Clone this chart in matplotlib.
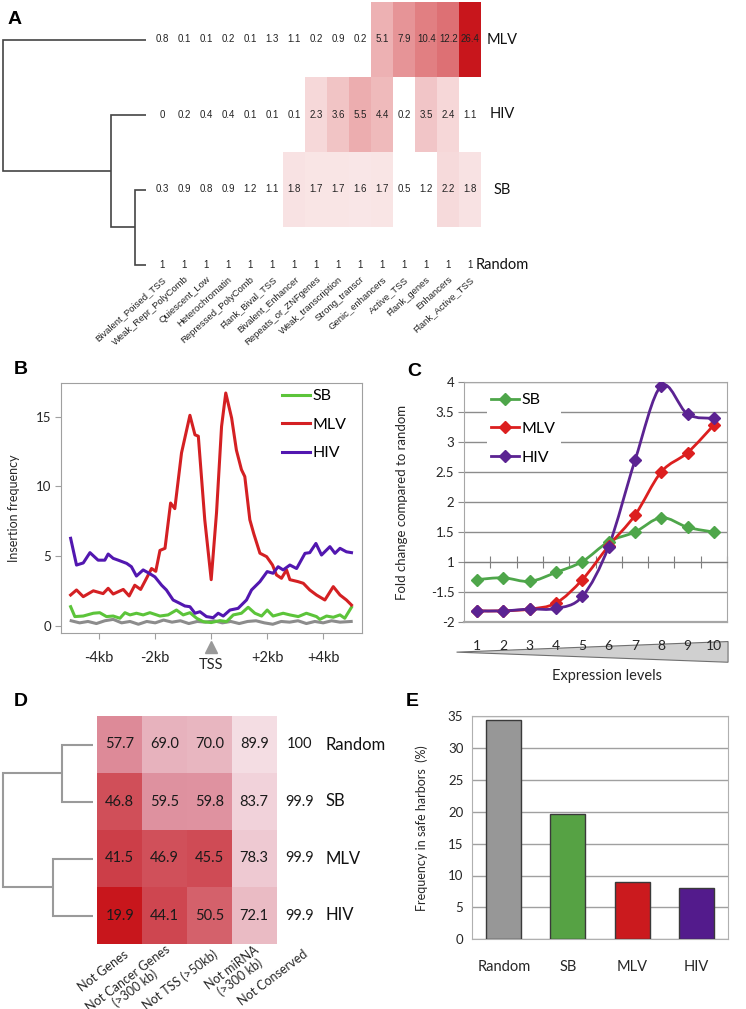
import numpy as np
import matplotlib
matplotlib.use('Agg')
import matplotlib.pyplot as plt
from matplotlib.colors import LinearSegmentedColormap, PowerNorm, Normalize
from matplotlib.lines import Line2D
from matplotlib.path import Path
from matplotlib.patches import PathPatch, Polygon

# ---------------- data ----------------
# Panel A: chromatin state enrichment (fold over random)
a_states = ['Bivalent_Poised_TSS', 'Weak_Repr_PolyComb', 'Quiescent_Low', 'Heterochromatin',
            'Repressed_PolyComb', 'Flank_Bival_TSS', 'Bivalent_Enhancer', 'Repeats_or_ZNFgenes',
            'Weak_transcription', 'Strong_transcr', 'Genic_enhancers', 'Active_TSS',
            'Flank_genes', 'Enhancers', 'Flank_Active_TSS']
a_rows = ['MLV', 'HIV', 'SB', 'Random']
a_mlv = [0.8, 0.1, 0.1, 0.2, 0.1, 1.3, 1.1, 0.2, 0.9, 0.2, 5.1, 7.9, 10.4, 12.2, 26.4]
a_hiv = [0, 0.2, 0.4, 0.4, 0.1, 0.1, 0.1, 2.3, 3.6, 5.5, 4.4, 0.2, 3.5, 2.4, 1.1]
a_sb = [0.3, 0.9, 0.8, 0.9, 1.2, 1.1, 1.8, 1.7, 1.7, 1.6, 1.7, 0.5, 1.2, 2.2, 1.8]
a_random = [1, 1, 1, 1, 1, 1, 1, 1, 1, 1, 1, 1, 1, 1, 1]
# dendrogram merges (child, child, height); leaves in row order
a_links = [(2, 3, 0.077), (1, 4, 0.245), (0, 5, 1.0)]

# Panel B: insertion frequency around TSS
b_mlv_kb = [-5.02, -4.81, -4.57, -4.21, -3.86, -3.68, -3.5, -3.14, -2.93, -2.73, -2.52, -2.31,
            -2.13, -1.98, -1.83, -1.65, -1.45, -1.3, -1.06, -0.76, -0.58, -0.46, -0.23, 0,
            0.19, 0.37, 0.52, 0.73, 0.9, 1.08, 1.2, 1.38, 1.52, 1.74, 1.98, 2.19, 2.33, 2.51,
            2.69, 2.81, 3.1, 3.29, 3.52, 3.76, 4.06, 4.36, 4.6, 4.83, 5.01]
b_mlv = [2.2, 2.56, 2.08, 2.5, 2.3, 2.68, 2.27, 2.6, 2.13, 2.9, 2.6, 3.4, 4.1, 3.9, 5.4, 5.55,
         8.8, 8.4, 12.4, 15.1, 13.7, 13.6, 7.6, 3.3, 8.1, 14.3, 16.7, 14.9, 12.6, 11.2, 10.7,
         7.6, 6.6, 5.2, 4.95, 4.35, 3.64, 3.4, 4.0, 3.3, 3.16, 3.04, 2.56, 2.2, 1.84, 2.8, 2.2,
         1.84, 1.48]
b_hiv_kb = [-5.02, -4.81, -4.57, -4.33, -4.04, -3.8, -3.68, -3.5, -3.32, -3.02, -2.85, -2.67,
            -2.43, -2.21, -2.01, -1.77, -1.6, -1.36, -1.12, -0.94, -0.76, -0.58, -0.4, -0.17,
            0.07, 0.25, 0.43, 0.67, 0.96, 1.26, 1.44, 1.74, 2.0, 2.21, 2.39, 2.57, 2.81, 3.05,
            3.35, 3.52, 3.74, 3.94, 4.24, 4.42, 4.6, 4.83, 5.01]
b_hiv = [6.27, 4.35, 4.5, 5.24, 4.7, 4.7, 5.14, 4.83, 4.7, 4.47, 4.23, 3.56, 4.0, 3.75, 3.5,
         2.9, 2.56, 1.84, 1.6, 1.41, 1.36, 0.89, 1.0, 0.65, 0.57, 0.89, 0.69, 1.12, 1.24, 1.84,
         2.56, 3.16, 3.88, 3.76, 4.23, 4.0, 4.35, 4.1, 5.19, 5.24, 5.9, 5.07, 5.67, 5.19, 5.55,
         5.3, 5.24]
b_sb_kb = [-5.02, -4.87, -4.57, -4.21, -3.98, -3.74, -3.5, -3.26, -3.08, -2.9, -2.67, -2.43,
           -2.19, -1.83, -1.54, -1.24, -1.0, -0.76, -0.52, -0.29, 0, 0.31, 0.55, 0.79, 1.08,
           1.32, 1.56, 1.8, 2.0, 2.21, 2.57, 2.81, 3.11, 3.4, 3.76, 3.88, 4.12, 4.36, 4.6, 4.77,
           5.01]
b_sb = [1.36, 0.65, 0.69, 0.89, 0.93, 0.65, 0.69, 0.53, 0.93, 0.77, 0.89, 0.77, 0.93, 0.69,
        0.77, 1.12, 0.77, 0.93, 0.53, 0.29, 0.22, 0.36, 0.29, 0.77, 0.89, 1.32, 0.89, 0.69,
        1.12, 0.69, 0.89, 0.77, 0.65, 0.89, 0.65, 0.45, 0.69, 0.6, 0.77, 0.53, 1.32]
b_rand_kb = [-5.0, -4.7, -4.4, -4.1, -3.8, -3.5, -3.2, -2.9, -2.6, -2.3, -2.0, -1.7, -1.4, -1.1,
             -0.8, -0.5, -0.2, 0.1, 0.4, 0.7, 1.0, 1.3, 1.6, 1.9, 2.2, 2.5, 2.8, 3.1, 3.4, 3.7,
             4.0, 4.3, 4.6, 5.0]
b_rand = [0.35, 0.2, 0.3, 0.15, 0.35, 0.45, 0.2, 0.3, 0.1, 0.3, 0.2, 0.4, 0.25, 0.35, 0.15,
          0.3, 0.25, 0.35, 0.2, 0.3, 0.15, 0.3, 0.35, 0.2, 0.1, 0.3, 0.25, 0.35, 0.15, 0.3, 0.2,
          0.35, 0.25, 0.3]
b_ticks = [-4, -2, 0, 2, 4]
b_tick_labels = ['-4kb', '-2kb', '', '+2kb', '+4kb']

# Panel C: fold change vs expression level (values in axis units)
c_levels = [1, 2, 3, 4, 5, 6, 7, 8, 9, 10]
c_sb = [0.71, 0.74, 0.68, 0.83, 1.01, 1.34, 1.5, 1.74, 1.58, 1.5]
c_mlv = [0.19, 0.19, 0.22, 0.32, 0.71, 1.27, 1.78, 2.5, 2.82, 3.28]
c_hiv = [0.19, 0.19, 0.22, 0.23, 0.43, 1.26, 2.69, 3.93, 3.46, 3.39]
c_yticks = [0, 0.5, 1, 1.5, 2, 2.5, 3, 3.5, 4]
c_ytick_labels = ['-2', '-1.5', '1', '1.5', '2', '2.5', '3', '3.5', '4']

# Panel D: percentage of integrations satisfying safe-harbor criteria
d_rows = ['Random', 'SB', 'MLV', 'HIV']
d_cols = ['Not Genes', 'Not Cancer Genes\n(>300 kb)', 'Not TSS (>50kb)',
          'Not miRNA\n(>300 kb)', 'Not Conserved']
d_random = [57.7, 69.0, 70.0, 89.9, 100]
d_sb = [46.8, 59.5, 59.8, 83.7, 99.9]
d_mlv = [41.5, 46.9, 45.5, 78.3, 99.9]
d_hiv = [19.9, 44.1, 50.5, 72.1, 99.9]
d_links = [(0, 1, 0.349), (2, 3, 0.449), (4, 5, 1.0)]

# Panel E: frequency in safe harbors
e_groups = ['Random', 'SB', 'MLV', 'HIV']
e_values = [34.3, 19.7, 9.0, 8.0]

# ---------------- figure ----------------
plt.rcParams['font.family'] = ['Lato', 'DejaVu Sans']
W, H = 746, 1009
fig = plt.figure(figsize=(W / 100, H / 100), dpi=100)
TXT = '#262626'


def px_axes(l, t, r, b):
    return fig.add_axes([l / W, 1 - b / H, (r - l) / W, (b - t) / H])


def draw_dendrogram(ax, links, n_leaves, color, lw):
    pos = {i: (i + 0.5, 0.0) for i in range(n_leaves)}
    for k, (a, b, h) in enumerate(links):
        ya, ha = pos[a]
        yb, hb = pos[b]
        ax.plot([ha, h, h, hb], [ya, ya, yb, yb], color=color, lw=lw,
                solid_joinstyle='miter', solid_capstyle='butt')
        pos[n_leaves + k] = ((ya + yb) / 2, h)


def smooth_path(x, y):
    pts = np.column_stack([x, y]).astype(float)
    ext = np.vstack([pts[0], pts, pts[-1]])
    verts = [pts[0]]
    codes = [Path.MOVETO]
    for i in range(len(pts) - 1):
        p0, p1, p2, p3 = ext[i], ext[i + 1], ext[i + 2], ext[i + 3]
        verts += [p1 + (p2 - p0) / 6, p2 - (p3 - p1) / 6, p2]
        codes += [Path.CURVE4] * 3
    return Path(verts, codes)


def letter(x, y, s):
    fig.text(x / W, 1 - y / H, s, ha='center', va='center', fontsize=14,
             fontweight='bold', family='Liberation Sans')


# ---- Panel A ----
axA = px_axes(151.3, 2, 481.3, 302)
a_vals = np.array([a_mlv, a_hiv, a_sb, a_random], dtype=float)
cmapA = LinearSegmentedColormap.from_list('redA', ['#ffffff', '#c8161c'])
axA.pcolormesh(np.arange(len(a_states) + 1), np.arange(len(a_rows) + 1),
               np.ma.masked_less(a_vals, 1.5), cmap=cmapA,
               norm=PowerNorm(0.6, vmin=1, vmax=26.4), edgecolors='none', linewidth=0)
axA.set_xlim(0, len(a_states))
axA.set_ylim(len(a_rows), 0)
axA.axis('off')
for i in range(len(a_rows)):
    for j in range(len(a_states)):
        axA.text(j + 0.5, i + 0.5, f'{a_vals[i, j]:g}', ha='center', va='center',
                 fontsize=7, color='#222222',
                 family=['Liberation Sans Narrow', 'Liberation Sans'])
    axA.text(1.062, i + 0.5, a_rows[i], transform=axA.get_yaxis_transform(),
             ha='center', va='center', fontsize=10.5, color='#111111')
for j, name in enumerate(a_states):
    axA.text(j + 0.62, 3.68, name, rotation=42, ha='right', va='center',
             rotation_mode='anchor', fontsize=6.8, color='#222222',
             family='Liberation Sans', clip_on=False)

axAd = px_axes(0, 2, 146, 302)
draw_dendrogram(axAd, a_links, len(a_rows), '#444444', 1.2)
axAd.set_xlim(1.023, 0)
axAd.set_ylim(len(a_rows), 0)
axAd.axis('off')
letter(15, 20, 'A')

# ---- Panel B ----
axB = px_axes(60.7, 382.7, 361.7, 633.3)
axB.plot(b_rand_kb, b_rand, color='#8c8c8c', lw=2.2, solid_joinstyle='round')
axB.plot(b_sb_kb, b_sb, color='#5cc43a', lw=2.2, label='SB', solid_joinstyle='round')
axB.plot(b_mlv_kb, b_mlv, color='#d42023', lw=2.2, label='MLV', solid_joinstyle='round')
axB.plot(b_hiv_kb, b_hiv, color='#5217b0', lw=2.2, label='HIV', solid_joinstyle='round')
axB.set_xlim(-5.375, 5.375)
axB.set_ylim(-0.55, 17.44)
axB.set_yticks([0, 5, 10, 15])
axB.set_xticks(b_ticks)
axB.set_xticklabels(b_tick_labels)
axB.tick_params(axis='both', colors='#a0a0a0', labelcolor=TXT, length=4)
axB.tick_params(axis='x', labelsize=10.5, pad=9)
axB.tick_params(axis='y', labelsize=9.5, pad=3)
for sp in axB.spines.values():
    sp.set_color('#a0a0a0')
axB.set_ylabel('Insertion frequency', fontsize=9, color=TXT)
axB.yaxis.set_label_coords(-0.135, 0.5)
axB.plot([0], [-0.053], marker='^', ms=9, color='#999999', transform=axB.get_xaxis_transform(),
         clip_on=False)
axB.text(0, -0.125, 'TSS', transform=axB.get_xaxis_transform(), ha='center', va='center',
         fontsize=10.5, color=TXT)
handles, labels = axB.get_legend_handles_labels()
axB.legend(handles, labels, loc='upper left', bbox_to_anchor=(0.735, 0.975), frameon=False,
           fontsize=11.5, handlelength=1.75, handletextpad=0.15, labelspacing=0.9,
           borderpad=0, borderaxespad=0)
letter(21, 370, 'B')

# ---- Panel C ----
axC = px_axes(464, 381.7, 727, 622.3)
c_series = [('SB', c_sb, '#4ea64a'), ('MLV', c_mlv, '#dc1f1f'), ('HIV', c_hiv, '#5b2392')]
c_handles = []
for name, vals, col in c_series:
    axC.add_patch(PathPatch(smooth_path(c_levels, vals), fill=False, edgecolor=col, lw=2,
                            zorder=3))
    axC.plot(c_levels, vals, linestyle='none', marker='D', ms=6, color=col, zorder=4)
    c_handles.append(Line2D([], [], color=col, lw=2, marker='D', ms=6))
axC.set_xlim(0.5, 10.5)
axC.set_ylim(0, 4)
axC.set_yticks(c_yticks)
axC.set_yticklabels(c_ytick_labels)
axC.yaxis.grid(True, color='#8c8c8c', lw=1)
axC.set_axisbelow(True)
axC.set_xticks(np.arange(1.5, 10.6, 1))
axC.tick_params(axis='x', direction='inout', length=8, labelbottom=False, color='#7f7f7f')
axC.tick_params(axis='y', colors='#8c8c8c', labelcolor=TXT, length=4, labelsize=9.5, pad=3)
for sp in ['left', 'right', 'top']:
    axC.spines[sp].set_color('#a6a6a6')
axC.spines['bottom'].set_position(('data', 1))
axC.spines['bottom'].set_color('#7f7f7f')
axC.axhline(0, color='#a6a6a6', lw=1.6, clip_on=False)
axC.set_ylabel('Fold change compared to random', fontsize=9.5, color=TXT)
axC.yaxis.set_label_coords(-0.213, 0.5)
axC.add_patch(Polygon([[0.217, -0.124], [10.54, -0.08], [10.54, -0.166]], closed=True,
                      transform=axC.get_xaxis_transform(), facecolor='#d0d0d0',
                      edgecolor='#707070', lw=0.8, clip_on=False, zorder=1))
for lvl in c_levels:
    axC.text(lvl, -0.1, str(lvl), transform=axC.get_xaxis_transform(), ha='center',
             va='center', fontsize=10, color=TXT, zorder=2)
axC.text(0.544, -0.223, 'Expression levels', transform=axC.transAxes, ha='center',
         va='center', fontsize=10.5, color=TXT)
legC = axC.legend(c_handles, [s[0] for s in c_series], loc='upper left',
                  bbox_to_anchor=(0.086, 0.972), frameon=True, fontsize=11.5,
                  handlelength=1.75, handletextpad=0.15, labelspacing=0.9, borderpad=0.3,
                  borderaxespad=0, fancybox=False)
legC.get_frame().set_facecolor('white')
legC.get_frame().set_edgecolor('none')
legC.get_frame().set_alpha(1)
letter(414, 372, 'C')

# ---- Panel D ----
axD = px_axes(97.3, 716, 321.5, 944)
d_vals = np.array([d_random, d_sb, d_mlv, d_hiv], dtype=float)
cmapD = LinearSegmentedColormap.from_list(
    'redD', [(0.0, '#c8161c'), (0.275, '#cc3f49'), (0.3375, '#d0505a'), (0.3875, '#d5646e'),
             (0.475, '#dd8c9a'), (0.625, '#e8b6c0'), (0.725, '#eec8d1'), (0.875, '#f4dde3'),
             (1.0, '#f8eaee')])
axD.pcolormesh(np.arange(len(d_cols) + 1), np.arange(len(d_rows) + 1),
               np.ma.masked_greater(d_vals, 95), cmap=cmapD, norm=Normalize(20, 100),
               edgecolors='none', linewidth=0)
axD.set_xlim(0, len(d_cols))
axD.set_ylim(len(d_rows), 0)
axD.axis('off')
for i in range(len(d_rows)):
    for j in range(len(d_cols)):
        v = d_vals[i, j]
        s = '100' if v == 100 else f'{v:.1f}'
        axD.text(j + 0.5, i + 0.5, s, ha='center', va='center', fontsize=10.5, color='#1a1a1a')
    axD.text(1.016, i + 0.5, d_rows[i], transform=axD.get_yaxis_transform(), ha='left',
             va='center', fontsize=12, color='#111111')
for j, name in enumerate(d_cols):
    axD.text(j + 0.66, 4.16, name, rotation=37, ha='right', va='center',
             rotation_mode='anchor', multialignment='center', fontsize=9, color=TXT,
             linespacing=1.0, clip_on=False)

axDd = px_axes(0, 716, 93, 944)
draw_dendrogram(axDd, d_links, len(d_rows), '#9a9a9a', 1.5)
axDd.set_xlim(1.037, 0)
axDd.set_ylim(len(d_rows), 0)
axDd.axis('off')
letter(21, 701, 'D')

# ---- Panel E ----
axE = px_axes(471.7, 716, 728.3, 939.3)
e_colors = ['#979797', '#56a244', '#cb1a1e', '#531b8c']
axE.bar(range(len(e_groups)), e_values, width=0.545, color=e_colors, edgecolor='#3a3a3a',
        lw=1, zorder=3)
axE.set_xlim(-0.5, len(e_groups) - 0.5)
axE.set_ylim(0, 35)
axE.set_yticks(range(0, 36, 5))
axE.set_xticks(range(len(e_groups)))
axE.set_xticklabels(e_groups)
axE.yaxis.grid(True, color='#a0a0a0', lw=1)
axE.set_axisbelow(True)
axE.tick_params(axis='both', length=0, labelcolor=TXT)
axE.tick_params(axis='x', labelsize=10.5, pad=15)
axE.tick_params(axis='y', labelsize=9.5, pad=6)
for sp in axE.spines.values():
    sp.set_color('#b0b0b0')
axE.set_ylabel('Frequency in safe harbors  (%)', fontsize=9, color=TXT)
axE.yaxis.set_label_coords(-0.170, 0.5)
letter(412, 702, 'E')

fig.savefig('out.png', dpi=100)
